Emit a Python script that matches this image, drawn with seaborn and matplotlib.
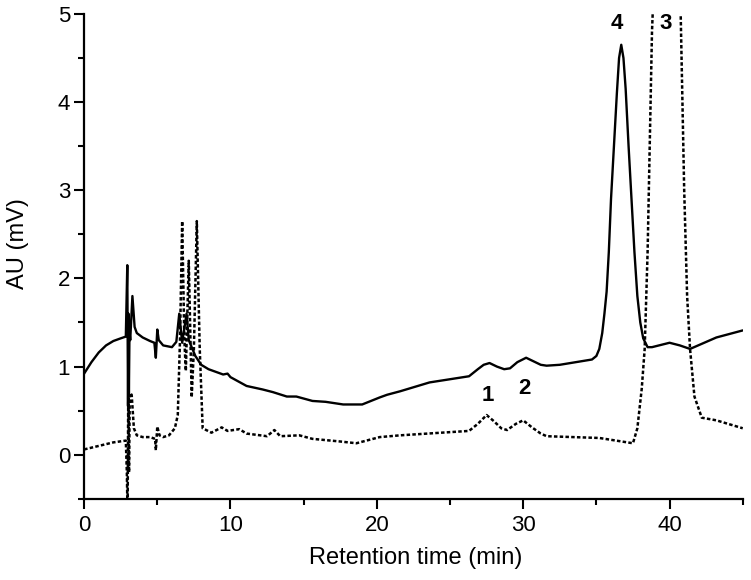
# Chromatogram of two runs (solid and dotted trace), peaks 1-4 labelled

import pandas as pd
import seaborn as sns
import matplotlib.pyplot as plt
from matplotlib.ticker import MultipleLocator

OUTPUT_PNG = 'out.png'

# ------------------------------
# Data
# ------------------------------
solid_time = [0, 0.5, 1, 1.5, 2, 2.5, 2.85, 2.95, 3.0, 3.03, 3.06, 3.1, 3.15,
              3.3, 3.45, 3.6, 4.0, 4.5, 4.8, 4.9, 5.0, 5.1, 5.4, 6.0, 6.3,
              6.5, 6.7, 7.0, 7.15, 7.6, 8.0, 8.5, 9.0, 9.5, 9.8, 10.0, 11.1,
              12.2, 12.9, 13.85, 14.5, 15.6, 16.5, 17.7, 19.0, 20.2, 20.7,
              21.6, 23.6, 26.3, 26.9, 27.3, 27.7, 28.2, 28.7, 29.1, 29.6,
              30.2, 30.7, 31.2, 31.6, 32.5, 34.7, 35.0, 35.2, 35.4, 35.55,
              35.7, 35.85, 36.0, 36.2, 36.4, 36.55, 36.7, 36.85, 37.0, 37.2,
              37.4, 37.6, 37.8, 38.0, 38.2, 38.5, 38.8, 40.0, 40.7, 41.4,
              43.2, 45.0]
solid_au = [0.92, 1.05, 1.16, 1.24, 1.29, 1.32, 1.34, 2.15, 0.55, 1.6, 0.7,
            1.4, 1.3, 1.8, 1.45, 1.38, 1.33, 1.29, 1.27, 1.1, 1.42, 1.3, 1.24,
            1.22, 1.28, 1.6, 1.27, 1.6, 1.3, 1.12, 1.02, 0.97, 0.94, 0.91,
            0.92, 0.88, 0.78, 0.74, 0.71, 0.66, 0.66, 0.61, 0.6, 0.57, 0.57,
            0.65, 0.68, 0.72, 0.82, 0.89, 0.97, 1.02, 1.04, 1.0, 0.97, 0.98,
            1.05, 1.1, 1.06, 1.02, 1.01, 1.02, 1.08, 1.12, 1.2, 1.38, 1.6,
            1.85, 2.3, 2.9, 3.5, 4.1, 4.5, 4.65, 4.5, 4.15, 3.5, 2.9, 2.3,
            1.8, 1.5, 1.32, 1.22, 1.22, 1.27, 1.24, 1.2, 1.33, 1.41]

dotted_time = [0, 1, 2, 2.85, 2.92, 2.97, 3.02, 3.07, 3.12, 3.25, 3.4, 3.6,
               4.0, 4.5, 4.85, 4.9, 5.0, 5.15, 5.4, 5.8, 6.2, 6.4, 6.55, 6.7,
               6.85, 6.95, 7.15, 7.35, 7.5, 7.7, 7.9, 8.1, 8.7, 9.4, 9.8,
               10.6, 11.1, 12.5, 13.0, 13.4, 14.7, 15.6, 17.5, 18.6, 20.2,
               21.6, 26.3, 26.9, 27.5, 28.0, 28.5, 28.9, 29.5, 30.0, 30.6,
               31.2, 31.6, 35.2, 37.5, 37.8, 38.1, 38.3, 38.5, 38.8, 39.2,
               39.8, 40.4, 40.7, 41.0, 41.2, 41.4, 41.7, 42.2, 43.2, 45.0]
dotted_au = [0.06, 0.1, 0.14, 0.16, -0.2, -0.7, 0.8, -0.2, 0.7, 0.68, 0.3,
             0.22, 0.2, 0.2, 0.18, 0.05, 0.32, 0.22, 0.2, 0.22, 0.3, 0.45,
             1.3, 2.65, 1.3, 0.95, 2.2, 0.65, 1.2, 2.65, 1.2, 0.3, 0.25, 0.31,
             0.27, 0.29, 0.24, 0.21, 0.28, 0.21, 0.22, 0.18, 0.15, 0.13, 0.2,
             0.22, 0.27, 0.35, 0.45, 0.38, 0.3, 0.28, 0.35, 0.39, 0.31, 0.24,
             0.21, 0.19, 0.13, 0.3, 0.75, 1.2, 2.3, 4.8, 6.5, 7.0, 7.0, 5.5,
             3.0, 1.8, 1.2, 0.66, 0.42, 0.39, 0.3]

peak_labels = ['1', '2', '3', '4']
peak_label_time = [27.6, 30.1, 39.75, 36.4]
peak_label_au = [0.55, 0.63, 4.77, 4.77]


def draw_figure():
    sns.set_style('ticks')
    plt.rcParams['font.family'] = ['Liberation Sans', 'DejaVu Sans']

    solid_df = pd.DataFrame({'time': solid_time, 'au': solid_au})
    dotted_df = pd.DataFrame({'time': dotted_time, 'au': dotted_au})

    fig = plt.figure(figsize=(7.51, 5.80), dpi=100)
    ax = fig.add_axes([0.112, 0.140, 0.877, 0.836])

    # ------------------------------
    # Traces
    # ------------------------------
    sns.lineplot(data=solid_df, x='time', y='au', ax=ax, sort=False,
                 estimator=None, color='black', linewidth=1.7)
    sns.lineplot(data=dotted_df, x='time', y='au', ax=ax, sort=False,
                 estimator=None, color='black', linewidth=1.8,
                 linestyle=(0, (1.4, 0.9)))

    for lab, t, v in zip(peak_labels, peak_label_time, peak_label_au):
        ax.text(t, v, lab, fontsize=16, fontweight='bold', color='black',
                ha='center', va='bottom')

    # ------------------------------
    # Axis properties
    # ------------------------------
    ax.set_xlim(0, 45)
    ax.set_ylim(-0.5, 5)
    ax.xaxis.set_major_locator(MultipleLocator(10))
    ax.xaxis.set_minor_locator(MultipleLocator(5))
    ax.yaxis.set_major_locator(MultipleLocator(1))
    ax.yaxis.set_minor_locator(MultipleLocator(0.5))

    sns.despine(ax=ax)
    for side in ['left', 'bottom']:
        ax.spines[side].set_linewidth(1.6)
        ax.spines[side].set_color('black')
    ax.tick_params(which='major', direction='out', length=7, width=1.5,
                   labelsize=16, color='black', labelcolor='black')
    ax.tick_params(which='minor', direction='out', length=4, width=1.5,
                   color='black')
    ax.tick_params(axis='x', which='major', pad=5)
    ax.tick_params(axis='y', which='major', pad=3)

    ax.set_xlabel('Retention time (min)', fontsize=17, color='black')
    ax.set_ylabel('AU (mV)', fontsize=17, color='black')
    ax.xaxis.set_label_coords(0.503, -0.1)
    ax.yaxis.set_label_coords(-0.083, 0.526)

    plt.savefig(OUTPUT_PNG, dpi=100)


if __name__ == '__main__':
    draw_figure()
